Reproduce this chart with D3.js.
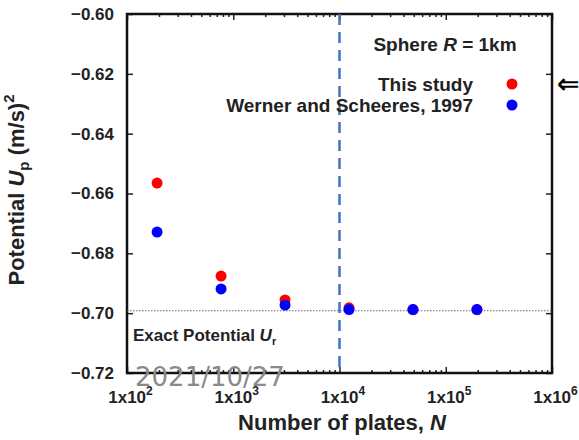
<!DOCTYPE html>
<html>
<head>
<meta charset="utf-8">
<script src="https://cdn.jsdelivr.net/npm/d3@7"></script>
<style>
  body { margin: 0; background: #fff; }
  text { font-family: "Liberation Sans", Arial, sans-serif; fill: #222; }
</style>
</head>
<body>
<div id="chart"></div>
<script>
// data
var plates = [192, 768, 3072, 12288, 49152, 196608];
var thisStudy = [-0.6565, -0.6876, -0.6956, -0.6982, -0.6988, -0.6988];
var wernerScheeres = [-0.6729, -0.6919, -0.6973, -0.6988, -0.6988, -0.6988];
var exactPotential = -0.6992;
var dashedAt = 10000;
var xTicks = [1e2, 1e3, 1e4, 1e5, 1e6];
var yTicks = [-0.72, -0.70, -0.68, -0.66, -0.64, -0.62, -0.60];

var svgWidth = 579;
var svgHeight = 440;

var svg = d3.select("#chart")
  .append("svg")
  .attr("width", svgWidth)
  .attr("height", svgHeight);

var plot = { left: 127, right: 552, top: 14, bottom: 373 };

var x = d3.scaleLog().domain([1e2, 1e6]).range([plot.left, plot.right]);
var y = d3.scaleLinear().domain([-0.72, -0.60]).range([plot.bottom, plot.top]);

// minor ticks for the log axis
var minors = [];
for (var e = 2; e < 6; e++) {
  for (var m = 2; m < 10; m++) minors.push(m * Math.pow(10, e));
}

// bottom axis
var xAxisG = svg.append("g")
  .attr("transform", `translate(0, ${plot.bottom})`)
  .call(d3.axisBottom(x).tickValues(xTicks).tickSizeInner(-6).tickSizeOuter(0)
    .tickFormat(""));
xAxisG.selectAll(".tick text")
  .attr("y", 30).attr("dy", 0).attr("dx", 3)
  .style("font-size", "17px").style("font-weight", "bold")
  .each(function(d) {
    var t = d3.select(this);
    t.append("tspan").text("1x10");
    t.append("tspan").attr("dy", -8).style("font-size", "12px").text(Math.round(Math.log10(d)));
  });

svg.append("g")
  .attr("transform", `translate(0, ${plot.bottom})`)
  .call(d3.axisBottom(x).tickValues(minors).tickSizeInner(-3).tickSizeOuter(0).tickFormat(""));

// top axis
svg.append("g")
  .attr("transform", `translate(0, ${plot.top})`)
  .call(d3.axisTop(x).tickValues(xTicks).tickSizeInner(-6).tickSizeOuter(0).tickFormat(""));
svg.append("g")
  .attr("transform", `translate(0, ${plot.top})`)
  .call(d3.axisTop(x).tickValues(minors).tickSizeInner(-3).tickSizeOuter(0).tickFormat(""));

// left axis
svg.append("g")
  .attr("transform", `translate(${plot.left}, 0)`)
  .call(d3.axisLeft(y).tickValues(yTicks).tickSizeInner(-6).tickSizeOuter(0).tickPadding(13)
    .tickFormat(d3.format(".2f")))
  .selectAll("text")
  .style("font-size", "17px").style("font-weight", "bold");

// right axis
svg.append("g")
  .attr("transform", `translate(${plot.right}, 0)`)
  .call(d3.axisRight(y).tickValues(yTicks).tickSizeInner(-6).tickSizeOuter(0).tickFormat(""));

svg.selectAll(".domain").remove();
svg.selectAll(".tick line").attr("stroke", "#222").attr("stroke-width", 1.5);

// frame
svg.append("rect")
  .attr("x", plot.left).attr("y", plot.top)
  .attr("width", plot.right - plot.left).attr("height", plot.bottom - plot.top)
  .attr("fill", "none").attr("stroke", "#111").attr("stroke-width", 2.5);

// exact potential line
svg.append("line")
  .attr("x1", plot.left).attr("x2", plot.right)
  .attr("y1", y(exactPotential)).attr("y2", y(exactPotential))
  .attr("stroke", "#666").attr("stroke-width", 1.2).attr("stroke-dasharray", "1.5,1.5");

var exactLabel = svg.append("text")
  .attr("x", 133).attr("y", 341)
  .style("font-size", "17px").style("font-weight", "bold");
exactLabel.append("tspan").text("Exact Potential ");
exactLabel.append("tspan").style("font-style", "italic").text("U");
exactLabel.append("tspan").attr("dy", 4).style("font-size", "11px").text("r");

// dashed vertical at 10^4
svg.append("line")
  .attr("x1", x(dashedAt)).attr("x2", x(dashedAt))
  .attr("y1", plot.top).attr("y2", plot.bottom)
  .attr("stroke", "#4472c4").attr("stroke-width", 2.5).attr("stroke-dasharray", "11,7");

// points
svg.selectAll(".red")
  .data(plates)
  .enter()
  .append("circle")
  .attr("cx", (d, i) => x(d))
  .attr("cy", (d, i) => y(thisStudy[i]))
  .attr("r", 5.5)
  .attr("fill", "#ff0000");

svg.selectAll(".blue")
  .data(plates)
  .enter()
  .append("circle")
  .attr("cx", (d, i) => x(d))
  .attr("cy", (d, i) => y(wernerScheeres[i]))
  .attr("r", 5.5)
  .attr("fill", "#0000ff");

// legend
var title = svg.append("text")
  .attr("x", 445).attr("y", 51).attr("text-anchor", "middle")
  .style("font-size", "19px").style("font-weight", "bold");
title.append("tspan").text("Sphere ");
title.append("tspan").style("font-style", "italic").text("R");
title.append("tspan").text(" = 1km");

var legendItems = [
  { label: "This study", color: "#ff0000", y: 84 },
  { label: "Werner and Scheeres, 1997", color: "#0000ff", y: 105 }
];
legendItems.forEach(function(item) {
  svg.append("text")
    .attr("x", 473).attr("y", item.y + 7).attr("text-anchor", "end")
    .style("font-size", "19px").style("font-weight", "bold")
    .text(item.label);
  svg.append("circle")
    .attr("cx", 512).attr("cy", item.y).attr("r", 5.5)
    .attr("fill", item.color);
});

// arrow at the right edge
svg.append("text")
  .attr("x", 557).attr("y", 93)
  .style("font-family", "DejaVu Sans")
  .style("font-size", "27px").style("font-weight", "bold").style("fill", "#000")
  .text("\u21d0");

// axis titles
var yTitle = svg.append("text")
  .attr("transform", "translate(24, 190) rotate(-90)")
  .attr("text-anchor", "middle")
  .style("font-size", "22px").style("font-weight", "bold");
yTitle.append("tspan").text("Potential ");
yTitle.append("tspan").style("font-style", "italic").text("U");
yTitle.append("tspan").attr("dy", 5).style("font-size", "15px").text("p");
yTitle.append("tspan").attr("dy", -5).text(" (m/s)");
yTitle.append("tspan").attr("dy", -10).style("font-size", "15px").text("2");

var xTitle = svg.append("text")
  .attr("x", 342).attr("y", 430).attr("text-anchor", "middle")
  .style("font-size", "22px").style("font-weight", "bold");
xTitle.append("tspan").text("Number of plates, ");
xTitle.append("tspan").style("font-style", "italic").text("N");

// date stamp over the axis
svg.append("text")
  .attr("x", 135).attr("y", 386)
  .style("font-family", "DejaVu Sans")
  .style("font-size", "26px").style("fill", "#8a8a8a")
  .text("2021/10/27");
</script>
</body>
</html>
